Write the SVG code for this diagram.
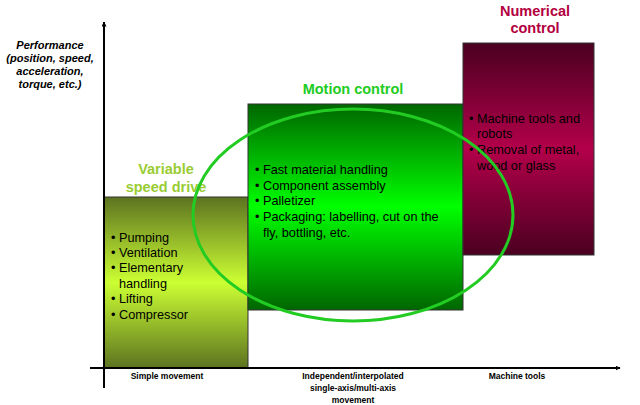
<svg xmlns="http://www.w3.org/2000/svg" width="640" height="405" viewBox="0 0 640 405">
<defs>
<linearGradient id="gVsd" x1="0" y1="0" x2="0" y2="1">
<stop offset="0" stop-color="#5c7320"/><stop offset="0.5" stop-color="#ccff33"/><stop offset="1" stop-color="#5c7320"/>
</linearGradient>
<linearGradient id="gMc" x1="0" y1="0" x2="0" y2="1">
<stop offset="0" stop-color="#006600"/><stop offset="0.5" stop-color="#00ff00"/><stop offset="1" stop-color="#006600"/>
</linearGradient>
<linearGradient id="gNc" x1="0" y1="0" x2="0" y2="1">
<stop offset="0" stop-color="#4a0020"/><stop offset="0.5" stop-color="#b3004a"/><stop offset="1" stop-color="#4a0020"/>
</linearGradient>
<marker id="arr" viewBox="0 0 10 10" refX="9" refY="5" markerWidth="5" markerHeight="5" orient="auto" markerUnits="userSpaceOnUse">
<path d="M0,0 L10,5 L0,10 z" fill="#000"/>
</marker>
</defs>
<style>
text{font-family:"Liberation Sans",Arial,sans-serif;}
.box{stroke:#333;stroke-width:1;}
.title{font-size:14.5px;font-weight:bold;text-anchor:middle;}
.item{font-size:12.7px;fill:#000;}
.ax{font-size:8.5px;font-weight:bold;text-anchor:middle;fill:#000;}
.yl{font-size:11px;font-weight:bold;font-style:italic;text-anchor:middle;fill:#000;}
</style>
<rect width="640" height="405" fill="#fff"/>

<g id="vsd">
<rect class="box" x="104" y="197" width="144" height="171" fill="url(#gVsd)"/>
<text class="title" fill="#99cc33" x="166" y="174">Variable</text>
<text class="title" fill="#99cc33" x="166" y="192">speed drive</text>
<text class="item" x="111" y="242">• Pumping</text>
<text class="item" x="111" y="257">• Ventilation</text>
<text class="item" x="111" y="272">• Elementary</text>
<text class="item" x="119" y="288">handling</text>
<text class="item" x="111" y="303">• Lifting</text>
<text class="item" x="111" y="319">• Compressor</text>
</g>

<g id="motion">
<rect class="box" x="248" y="104" width="215" height="206" fill="url(#gMc)"/>
<text class="title" fill="#22cc22" x="353" y="94">Motion control</text>
<text class="item" x="255" y="174">• Fast material handling</text>
<text class="item" x="255" y="190">• Component assembly</text>
<text class="item" x="255" y="205">• Palletizer</text>
<text class="item" x="255" y="221">• Packaging: labelling, cut on the</text>
<text class="item" x="263" y="237">fly, bottling, etc.</text>
</g>

<g id="numerical">
<rect class="box" x="463" y="43" width="131" height="212" fill="url(#gNc)"/>
<text class="title" fill="#b3003f" x="535" y="16">Numerical</text>
<text class="title" fill="#b3003f" x="535" y="33">control</text>
<text class="item" x="469" y="123">• Machine tools and</text>
<text class="item" x="477" y="138">robots</text>
<text class="item" x="469" y="154">• Removal of metal,</text>
<text class="item" x="477" y="170">wood or glass</text>
</g>

<g id="ylabel">
<text class="yl" x="50" y="49">Performance</text>
<text class="yl" x="50" y="62">(position, speed,</text>
<text class="yl" x="50" y="75">acceleration,</text>
<text class="yl" x="50" y="88">torque, etc.)</text>
</g>

<g id="xlabels">
<text class="ax" x="167" y="379">Simple movement</text>
<text class="ax" x="353" y="379">Independent/interpolated</text>
<text class="ax" x="353" y="391">single-axis/multi-axis</text>
<text class="ax" x="353" y="403">movement</text>
<text class="ax" x="517" y="379">Machine tools</text>
</g>

<g id="connectors">
<line x1="104" y1="388" x2="104" y2="22" stroke="#000" stroke-width="2" marker-end="url(#arr)"/>
<line x1="90" y1="368" x2="620" y2="368" stroke="#000" stroke-width="2" marker-end="url(#arr)"/>
</g>

<g id="ellipse">
<ellipse cx="353" cy="215" rx="160" ry="106" fill="none" stroke="#22cc22" stroke-width="3"/>
</g>
</svg>
